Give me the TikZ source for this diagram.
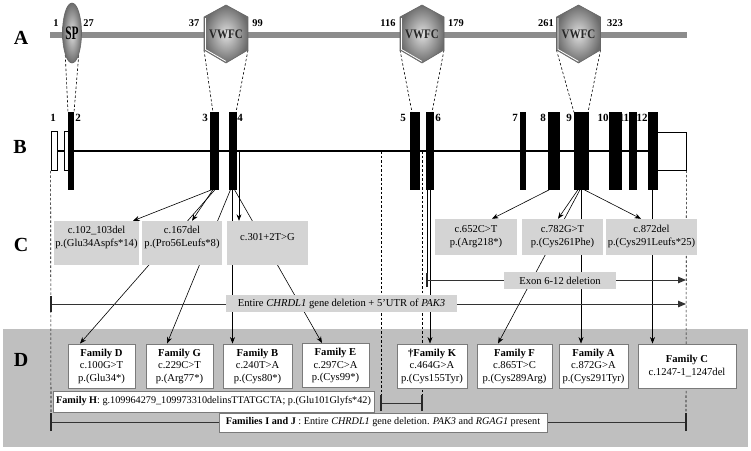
\documentclass[tikz,border=0pt]{standalone}
\usepackage{fontspec}
\usepackage{graphicx}
\setmainfont{Liberation Serif}
\usetikzlibrary{arrows.meta,shapes.geometric}
\pgfdeclarelayer{bg}
\pgfdeclarelayer{lines}
\pgfsetlayers{bg,lines,main}
\definecolor{protbar}{HTML}{8C8C8C}
\definecolor{cfill}{HTML}{D4D4D4}
\definecolor{dbg}{HTML}{BFBFBF}
\definecolor{fborder}{HTML}{7A7A7A}
\begin{document}
\begin{tikzpicture}[x=1pt,y=-1pt, font=\fontsize{10.6}{12.5}\selectfont,
  exon/.style={draw=black, fill=black, inner sep=0pt, minimum height=77pt, line width=0.3pt},
  utr/.style={draw=black, fill=white, inner sep=0pt, line width=0.7pt},
  exlabel/.style={font=\fontsize{11}{11}\selectfont\bfseries, inner sep=0pt},
  rowlabel/.style={font=\fontsize{20}{20}\selectfont\bfseries, inner sep=0pt},
  domnum/.style={font=\fontsize{10.4}{10.4}\selectfont\bfseries, inner sep=0pt},
  conn/.style={line width=0.6pt, -{Stealth[length=6.5pt,width=5pt]}},
  plainline/.style={line width=0.6pt},
  guide/.style={line width=0.6pt, dash pattern=on 2.5pt off 2pt},
  cbox/.style={fill=cfill, draw=none, inner sep=0pt},
  ctext/.style={align=center, inner sep=0pt},
  fambox/.style={fill=white, draw=fborder, line width=0.9pt, align=center, inner sep=0pt, minimum height=44pt},
  wbox/.style={fill=white, draw=fborder, line width=0.9pt, inner sep=0pt},
  gbox/.style={fill=cfill, draw=none, inner sep=0pt},
  spanline/.style={line width=0.9pt, draw=black!80},
  endbar/.style={line width=2.4pt, draw=black!85},
  hexdom/.style={draw=black!60, line width=0.6pt, inner color=gray!25, outer color=gray!85!black},
  spdom/.style={ellipse, draw=black!60, line width=0.6pt, inner color=gray!25, outer color=gray!85!black, inner sep=0pt},
  vwfct/.style={inner sep=0pt, text=black!85, font=\fontsize{13}{13}\selectfont\bfseries},
]
\useasboundingbox (0,0) rectangle (751,450);

% ---------- backgrounds
\begin{pgfonlayer}{bg}
\fill[dbg] (3,329) rectangle (748,447);
\end{pgfonlayer}

% ---------- row labels
\node[rowlabel] (lA) at (21,38) {A};
\node[rowlabel] (lB) at (20,147) {B};
\node[rowlabel] (lC) at (21,245) {C};
\node[rowlabel] (lD) at (21,360) {D};

% ---------- row A: protein
\fill[protbar] (50,32) rectangle (687,38);
\node[spdom, minimum width=19pt, minimum height=60pt] (sp) at (72,33) {\scalebox{0.6}[1]{\fontsize{19}{19}\selectfont\bfseries SP}};
\foreach \cx/\nm in {226/1,422/2,578.5/3}{
  \begin{scope}[xshift=\cx pt]
    \path[hexdom] (0,5) -- (22,17) -- (22,50) -- (0,63) -- (-22,50) -- (-22,17) -- cycle;
    \draw[white, line width=0.8pt] (-20.6,18) -- (-20.6,49.4) -- (0,61.4);
    \node[vwfct] (vwfc\nm) at (0,34) {\scalebox{0.85}[1]{VWFC}};
    \coordinate (hl\nm) at (-22,50);
    \coordinate (hr\nm) at (22,50);
  \end{scope}
}
\node[domnum] (n1) at (56,23) {1};
\node[domnum] (n27) at (88.5,23) {27};
\node[domnum] (n37) at (194,23) {37};
\node[domnum] (n99) at (257.5,23) {99};
\node[domnum] (n116) at (388,23) {116};
\node[domnum] (n179) at (456,23) {179};
\node[domnum] (n261) at (546,23) {261};
\node[domnum] (n323) at (615,23) {323};

% ---------- row B: gene
\node[utr, minimum width=6pt, minimum height=39pt] (u1) at (54,151) {};
\node[utr, minimum width=4pt, minimum height=39pt] (u2) at (66,151) {};
\node[utr, minimum width=29pt, minimum height=38pt] (u12) at (671.5,151) {};
\node[exon, minimum width=5pt] (e2) at (70.5,151) {};
\node[exon, minimum width=8pt] (e3) at (214,151) {};
\node[exon, minimum width=7pt] (e4) at (232.5,151) {};
\node[exon, minimum width=9pt] (e5) at (414.5,151) {};
\node[exon, minimum width=7pt] (e6) at (429.5,151) {};
\node[exon, minimum width=5pt] (e7) at (522.5,151) {};
\node[exon, minimum width=11pt] (e8) at (553.5,151) {};
\node[exon, minimum width=14pt] (e9) at (581,151) {};
\node[exon, minimum width=12pt] (e10) at (615,151) {};
\node[exon, minimum width=7pt] (e11) at (632.5,151) {};
\node[exon, minimum width=9pt] (e12) at (652.5,151) {};
\node[exlabel] (x1) at (53,118) {1};
\node[exlabel] (x2) at (78,118) {2};
\node[exlabel] (x3) at (205,118) {3};
\node[exlabel] (x4) at (240,118) {4};
\node[exlabel] (x5) at (403,118) {5};
\node[exlabel] (x6) at (438,118) {6};
\node[exlabel] (x7) at (515,118) {7};
\node[exlabel] (x8) at (543,118) {8};
\node[exlabel] (x9) at (569,118) {9};
\node[exlabel] (x10) at (603,118) {10};
\node[exlabel] (x11) at (624,118) {11};
\node[exlabel] (x12) at (642,118) {12};

\coordinate (spl4) at (239,151);
\coordinate (brkL) at (381,151);
\coordinate (brkR) at (422,151);

% ---------- row C boxes
\node[cbox, minimum width=85pt, minimum height=44pt] (c1) at (96.5,243) {};
\node[ctext] (c1t) at (96.5,237.5) {c.102\_103del\\p.(Glu34Aspfs*14)};
\node[cbox, minimum width=80pt, minimum height=44pt] (c2) at (182,243) {};
\node[ctext] (c2t) at (182,237.5) {c.167del\\p.(Pro56Leufs*8)};
\node[cbox, minimum width=81pt, minimum height=44pt] (c3) at (267.5,243) {};
\node[ctext] (c3t) at (267.5,237.5) {c.301+2T>G};
\node[cbox, minimum width=82pt, minimum height=36pt] (c4) at (476,237) {};
\node[ctext] (c4t) at (476,236.5) {c.652C>T\\p.(Arg218*)};
\node[cbox, minimum width=81pt, minimum height=36pt] (c5) at (562.5,237) {};
\node[ctext] (c5t) at (562.5,236.5) {c.782G>T\\p.(Cys261Phe)};
\node[cbox, minimum width=91pt, minimum height=36pt] (c6) at (651.5,237) {};
\node[ctext] (c6t) at (651.5,236.5) {c.872del\\p.(Cys291Leufs*25)};

\node[gbox, minimum width=112pt, minimum height=17pt] (delbox) at (560,280.5) {Exon 6-12 deletion};
\node[gbox, minimum width=231pt, minimum height=17pt] (entbox) at (341.5,303.5) {Entire \textit{CHRDL1} gene deletion + 5'UTR of \textit{PAK3}};

\coordinate (delS) at (427,280); \coordinate (delE) at (686,280);
\coordinate (entS) at (51,304); \coordinate (entE) at (686,304);
\coordinate (hS) at (381,403); \coordinate (hE) at (422,403);
\coordinate (ijS) at (51,422); \coordinate (ijE) at (686,422);

% ---------- row D boxes
\node[fambox, minimum width=67pt] (famD) at (101.5,366) {\textbf{Family D}\\c.100G>T\\p.(Glu34*)};
\node[fambox, minimum width=67pt] (famG) at (179.5,366) {\textbf{Family G}\\c.229C>T\\p.(Arg77*)};
\node[fambox, minimum width=69pt] (famB) at (257.5,366) {\textbf{Family B}\\c.240T>A\\p.(Cys80*)};
\node[fambox, minimum width=67pt] (famE) at (335.5,365.5) {\textbf{Family E}\\c.297C>A\\p.(Cys99*)};
\node[fambox, minimum width=70pt] (famK) at (432,366) {\textbf{\textdagger Family K}\\c.464G>A\\p.(Cys155Tyr)};
\node[fambox, minimum width=75pt] (famF) at (514.5,366) {\textbf{Family F}\\c.865T>C\\p.(Cys289Arg)};
\node[fambox, minimum width=69pt] (famA) at (593.5,366) {\textbf{Family A}\\c.872G>A\\p.(Cys291Tyr)};
\node[fambox, minimum width=98pt] (famC) at (687,366) {\textbf{Family C}\\c.1247-1\_1247del};
\node[wbox, minimum width=321pt, minimum height=21pt, font=\fontsize{10.2}{12}\selectfont] (famH) at (213.5,401.5) {\textbf{Family H}: g.109964279\_109973310delinsTTATGCTA; p.(Glu101Glyfs*42)};
\node[wbox, minimum width=328pt, minimum height=19pt, font=\fontsize{10.2}{12}\selectfont] (famIJ) at (383,422.5) {\textbf{Families I and J} : Entire \textit{CHRDL1} gene deletion. \textit{PAK3} and \textit{RGAG1} present};

% ---------- lines (under boxes)
\begin{pgfonlayer}{lines}
\draw[line width=1.3pt] (u1.east) -- (e12.west);
% domain guides
\draw[guide] (sp.253) -- ([xshift=-2.5pt]e2.north);
\draw[guide] (sp.287) -- ([xshift=3.5pt]e2.north);
\draw[guide] (hl1) -- ([xshift=-1pt]e3.north);
\draw[guide] (hr1) -- ([xshift=3.5pt]e4.north);
\draw[guide] (hl2) -- ([xshift=-2.5pt]e5.north);
\draw[guide] (hr2) -- ([xshift=2.5pt]e6.north);
\draw[guide] (hl3) -- ([xshift=-7pt]e9.north);
\draw[guide] (hr3) -- ([xshift=7pt]e9.north);
% long dashed verticals
\draw[guide] (u1.south west) -- (ijS);
\draw[guide] (u12.south east) -- (ijE);
\draw[guide] (brkL) -- (hS);
\draw[guide] (brkR) -- (hE);
% connectors
\draw[conn] ([xshift=-2pt]e3.south) -- ([xshift=36.5pt]c1.north);
\draw[conn] ([xshift=-1pt]e3.south) -- ([xshift=10pt]c2.north);
\draw[conn] ([xshift=1pt]e3.south) -- ([xshift=-21.5pt]famD.north);
\draw[conn] ([xshift=-2pt]e4.south) -- ([xshift=-12.5pt]famG.north);
\draw[conn] (e4.south) -- ([xshift=-25pt]famB.north);
\draw[conn] ([xshift=2pt]e4.south) -- ([xshift=-13.5pt]famE.north);
\draw[conn] (spl4) -- ([xshift=-28.5pt]c3.north);
\draw[plainline] ([xshift=-2.5pt]e6.south) -- (delS);
\draw[conn] ([xshift=0.5pt]e6.south) -- ([xshift=-2pt]famK.north);
\draw[conn] ([xshift=-4pt]e8.south) -- ([xshift=16pt]c4.north);
\draw[conn] ([xshift=-3pt]e9.south) -- ([xshift=-4.5pt]c5.north);
\draw[conn] ([xshift=-1pt]e9.south) -- ([xshift=-16.5pt]famF.north);
\draw[conn] (e9.south) -- ([xshift=-12.5pt]famA.north);
\draw[conn] ([xshift=3pt]e9.south) -- ([xshift=-10.5pt]c6.north);
\draw[conn] (e12.south) -- ([xshift=-34.5pt]famC.north);
% spans
\draw[spanline, -{Triangle[length=8pt,width=6.5pt]}] (delS) -- (delE);
\draw[endbar] ([yshift=-7pt]delS) -- ([yshift=7pt]delS);
\draw[spanline, -{Triangle[length=8pt,width=6.5pt]}] (entS) -- (entE);
\draw[endbar] ([yshift=-8pt]entS) -- ([yshift=8pt]entS);
\draw[spanline] (hS) -- (hE);
\draw[endbar] ([yshift=-8pt]hS) -- ([yshift=8pt]hS);
\draw[endbar] ([yshift=-8pt]hE) -- ([yshift=8pt]hE);
\draw[spanline] (ijS) -- (ijE);
\draw[endbar] ([yshift=-9pt]ijS) -- ([yshift=9pt]ijS);
\draw[endbar] ([yshift=-9pt]ijE) -- ([yshift=9pt]ijE);
\end{pgfonlayer}
\end{tikzpicture}
\end{document}
